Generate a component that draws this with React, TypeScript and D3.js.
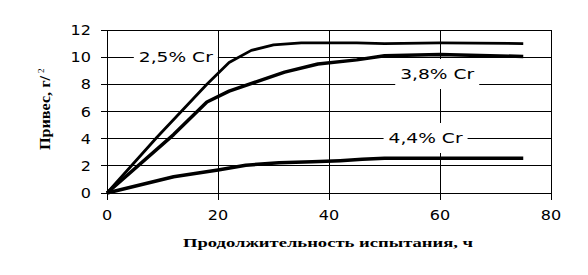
import React from "react";
import * as d3 from "d3";

const hours25 = [0, 9, 18, 22, 26, 30, 35, 45, 50, 60, 75];
const gain25 = [0, 4.1, 8.0, 9.6, 10.5, 10.9, 11.05, 11.05, 11.0, 11.05, 11.0];

const hours38 = [0, 12, 18, 22, 27, 32, 38, 45, 50, 60, 75];
const gain38 = [0, 4.3, 6.7, 7.5, 8.2, 8.9, 9.5, 9.8, 10.1, 10.2, 10.05];

const hours44 = [0, 12, 20, 25, 31, 37, 42, 46, 50, 60, 75];
const gain44 = [0, 1.2, 1.7, 2.05, 2.23, 2.3, 2.38, 2.48, 2.55, 2.55, 2.55];

const seriesNames = ["2,5% Cr", "3,8% Cr", "4,4% Cr"];
const labelX = [12.4, 59.5, 57.4];
const labelY = [10, 8.76, 4.05];

const xTicks = [0, 20, 40, 60, 80];
const yTicks = [0, 2, 4, 6, 8, 10, 12];

const xTitle = "Продолжительность испытания, ч";
const yTitle = "Привес, г/";
const ySup = "2";

export default function App() {
  const W = 588, H = 275;
  const x = d3.scaleLinear().domain([0, 80]).range([107, 551]);
  const y = d3.scaleLinear().domain([0, 12]).range([193, 30]);
  const line = d3
    .line<[number, number]>()
    .x((d) => x(d[0]))
    .y((d) => y(d[1]));

  const series = [
    { xs: hours25, ys: gain25, w: 2.8 },
    { xs: hours38, ys: gain38, w: 3.5 },
    { xs: hours44, ys: gain44, w: 3.5 },
  ];

  const font = "'DejaVu Sans', Verdana, sans-serif";
  const serif = "'Liberation Serif', 'Times New Roman', serif";

  return (
    <svg
      width={W}
      height={H}
      style={{ position: "absolute", left: 0, top: 0, background: "#fff" }}
    >
      <rect x={0} y={0} width={W} height={H} fill="#fff" />
      {/* grid */}
      {yTicks.map((t) => (
        <line
          key={"gy" + t}
          x1={x(0) - 6}
          x2={x(80)}
          y1={y(t)}
          y2={y(t)}
          stroke="#000"
          strokeWidth={1}
          shapeRendering="crispEdges"
        />
      ))}
      {xTicks.map((t) => (
        <line
          key={"gx" + t}
          x1={x(t)}
          x2={x(t)}
          y1={y(12)}
          y2={y(0) + 7}
          stroke="#000"
          strokeWidth={1}
          shapeRendering="crispEdges"
        />
      ))}
      {/* label boxes */}
      {seriesNames.map((n, i) => {
        const cx = x(labelX[i]);
        const cy = y(labelY[i]);
        const h = i === 0 ? 20 : 30;
        return (
          <g key={n}>
            <rect x={cx - 42} y={cy - h / 2} width={84} height={h} fill="#fff" />
            <text
              x={cx - 37}
              y={cy + 5}
              fontFamily={font}
              fontSize={13.5}
              textLength={74}
              lengthAdjust="spacingAndGlyphs"
              fill="#000"
            >
              {n}
            </text>
          </g>
        );
      })}
      {/* curves */}
      {series.map((s, i) => (
        <path
          key={"s" + i}
          d={line(s.xs.map((v, j) => [v, s.ys[j]]) as [number, number][]) || ""}
          fill="none"
          stroke="#000"
          strokeWidth={s.w}
          strokeLinejoin="round"
        />
      ))}
      {/* tick labels */}
      {yTicks.map((t) => {
        const s = String(t);
        return (
          <text
            key={"ly" + t}
            x={91}
            y={y(t) + 5}
            textAnchor="end"
            fontFamily={font}
            fontSize={14}
            textLength={10.2 * s.length}
            lengthAdjust="spacingAndGlyphs"
            fill="#000"
          >
            {s}
          </text>
        );
      })}
      {xTicks.map((t) => {
        const s = String(t);
        return (
          <text
            key={"lx" + t}
            x={x(t) - (10.2 * s.length) / 2}
            y={220}
            fontFamily={font}
            fontSize={14}
            textLength={10.2 * s.length}
            lengthAdjust="spacingAndGlyphs"
            fill="#000"
          >
            {s}
          </text>
        );
      })}
      {/* axis titles */}
      <text
        x={183}
        y={247}
        fontFamily={serif}
        fontWeight="bold"
        fontSize={13}
        textLength={290}
        lengthAdjust="spacingAndGlyphs"
        fill="#000"
      >
        {xTitle}
      </text>
      <g transform="translate(50,150) rotate(-90)">
        <text
          x={0}
          y={0}
          fontFamily={serif}
          fontWeight="bold"
          fontSize={14}
          textLength={74}
          lengthAdjust="spacingAndGlyphs"
          fill="#000"
        >
          {yTitle}
        </text>
        <text
          x={77}
          y={-6}
          fontFamily={serif}
          fontSize={9}
          fill="#000"
        >
          {ySup}
        </text>
      </g>
    </svg>
  );
}
